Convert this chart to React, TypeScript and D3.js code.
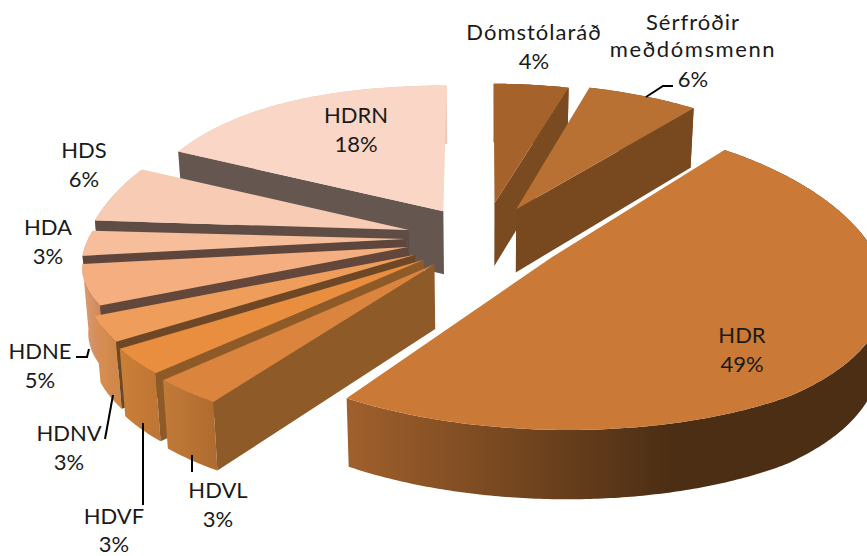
import React from "react";
import * as d3 from "d3";

// ---- data ----
const names = ["Dómstólaráð", "Sérfróðir meðdómsmenn", "HDR", "HDVL", "HDVF", "HDNV", "HDNE", "HDA", "HDS", "HDRN"];
const shares = [4, 6, 49, 3, 3, 3, 5, 3, 6, 18];
const explode = [0.27, 0.243, 0.25, 0.243, 0.243, 0.243, 0.243, 0.243, 0.243, 0.243];

// ---- style ----
const faceColors = ["#A5622B", "#B87033", "#CA7A36", "#DA843E", "#E98E3F", "#EF9D5A", "#F4AE80", "#F6BE9A", "#F7CBB4", "#F9D6C6"];
const wallColors = ["#7A4A20", "#78481F", "#5A3618", "#8E5A28", "#8E5A28", "#6E4826", "#62473A", "#5E463C", "#5F4D45", "#655650"];
const rimFrom = ["#7A4A20", "#78481F", "#A0602C", "#C27A38", "#CB8038", "#D88F55", "#DB9C72", "#C9A186", "#C9A186", "#EBC8B8"];
const rimTo = ["#7A4A20", "#78481F", "#4C2E14", "#B06C30", "#C07634", "#CF8848", "#CF8A5C", "#C9A186", "#C9A186", "#EBC8B8"];
// per-slice corrections of the disc shape
const radiusBase = [1, 1, 0.985, 1, 0.99, 0.98, 0.985, 0.985, 1, 1];
const radiusBulge = [0, 0, 0.075, 0, 0, 0, -0.18, 0, 0, 0];
const stretchX = [1.05, 1.06, 1, 1, 1, 1, 1, 1, 1, 1];
const stretchYBase = [0.95, 1, 1, 1, 1, 1, 1, 1, 1.15, 1.15];
const stretchYBulge = [0, 0, 0, 0, 0, 0, 0, 0, -0.15, -0.15];
const drawOrder = [0, 1, 9, 8, 7, 6, 5, 4, 3, 2];

const W = 867, H = 556;
const cx = 484, cy = 238, shrink = 0.985;

type Pt = [number, number];
// foreshortening of the tilted disc: nearer (Y<0) is drawn larger
const widthAt = (Y: number) => 322 - 51.5 * Y + 18.5 * Y * Y;
const heightAt = (Y: number) => 133.2 - 15.5 * Y + 8.3 * Y * Y;
const depthAt = (Y: number) => 64 - 4.5 * Y;
const project = (X: number, Y: number): Pt => [cx + X * widthAt(Y), cy - Y * heightAt(Y)];
const drop = (X: number, Y: number): Pt => {
  const [x, y] = project(X, Y);
  return [cx + (x - cx) * shrink, y + depthAt(Y)];
};

const arcs = d3.pie<number>().sort(null).value((d) => d)(shares);
const path = d3.line<Pt>().curve(d3.curveLinear);

const labels: { lines: string[]; x: number; y: number[]; spacing?: number[] }[] = [
  { lines: ["Dómstólaráð", "4%"], x: 534, y: [40, 69], spacing: [1, 0] },
  { lines: ["Sérfróðir", "meðdómsmenn", "6%"], x: 693, y: [30, 57, 87], spacing: [1, 1.6, 0] },
  { lines: ["HDR", "49%"], x: 742, y: [343, 372] },
  { lines: ["HDVL", "3%"], x: 218, y: [498, 527] },
  { lines: ["HDVF", "3%"], x: 114, y: [524, 552] },
  { lines: ["HDNV", "3%"], x: 69, y: [441, 470] },
  { lines: ["HDNE", "5%"], x: 40, y: [359, 388] },
  { lines: ["HDA", "3%"], x: 48, y: [235, 264] },
  { lines: ["HDS", "6%"], x: 84, y: [158, 187] },
  { lines: ["HDRN", "18%"], x: 356, y: [123, 152] },
];
const leaders: Pt[][] = [
  [[646, 97], [663, 86], [673, 86]],
  [[76, 357], [87, 357], [89, 349]],
  [[113, 395], [105, 439]],
  [[143, 423], [143, 505]],
  [[192, 455], [192, 472]],
];

function slice(i: number) {
  const a = arcs[i];
  const mid = (a.startAngle + a.endAngle) / 2;
  const ex = explode[i] * Math.sin(mid);
  const ey = explode[i] * Math.cos(mid);
  const rim = (t: number): [number, number] => {
    const c2 = Math.cos(t) * Math.cos(t);
    const R = radiusBase[i] + radiusBulge[i] * Math.min(c2, 0.7);
    const ky = stretchYBase[i] + stretchYBulge[i] * c2;
    return [ex + R * stretchX[i] * Math.sin(t), ey + R * ky * Math.cos(t)];
  };
  const n = Math.max(2, Math.ceil((a.endAngle - a.startAngle) / 0.01));
  const ts = d3.range(n + 1).map((k) => a.startAngle + ((a.endAngle - a.startAngle) * k) / n);
  const topRim = ts.map((t) => project(...rim(t)));
  const lowRim = ts.map((t) => drop(...rim(t)));
  const apexTop = project(ex, ey);
  const apexLow = drop(ex, ey);
  const close = (p: Pt[]) => (path(p) || "") + "Z";
  return {
    face: close([apexTop, ...topRim]),
    rimBand: close([...topRim, ...lowRim.slice().reverse()]),
    // a radial wall is drawn only when it faces the viewer
    wallStart: Math.sin(a.startAngle) < -1e-6 ? close([apexTop, topRim[0], lowRim[0], apexLow]) : null,
    wallEnd: Math.sin(a.endAngle) > 1e-6 ? close([apexTop, topRim[n], lowRim[n], apexLow]) : null,
    xs: d3.extent(topRim, (p) => p[0]) as [number, number],
  };
}

export default function App() {
  const slices = shares.map((_, i) => slice(i));
  const textFont = { fontFamily: "Lato, Carlito, sans-serif", fontSize: 22, fill: "#1a1a1a" };
  return (
    <svg width={W} height={H} viewBox={`0 0 ${W} ${H}`} style={{ position: "absolute", left: 0, top: 0, background: "#fff" }}>
      <defs>
        {slices.map((s, i) => (
          <linearGradient
            key={i}
            id={`rim${i}`}
            gradientUnits="userSpaceOnUse"
            x1={s.xs[0]}
            x2={i === 2 ? s.xs[0] + (s.xs[1] - s.xs[0]) * 0.6 : s.xs[1]}
            y1={0}
            y2={0}
          >
            <stop offset="0" stopColor={rimFrom[i]} />
            <stop offset="1" stopColor={rimTo[i]} />
          </linearGradient>
        ))}
      </defs>
      {drawOrder.map((i) => (
        <g key={names[i]}>
          <path d={slices[i].rimBand} fill={`url(#rim${i})`} />
          {slices[i].wallEnd && <path d={slices[i].wallEnd!} fill={wallColors[i]} />}
          {slices[i].wallStart && <path d={slices[i].wallStart!} fill={wallColors[i]} />}
          <path d={slices[i].face} fill={faceColors[i]} />
        </g>
      ))}
      {leaders.map((l, i) => (
        <path key={i} d={path(l) || ""} fill="none" stroke="#000" strokeWidth={2} />
      ))}
      {labels.map((l) =>
        l.lines.map((t, j) => (
          <text key={l.lines[0] + j} x={l.x} y={l.y[j]} textAnchor="middle" letterSpacing={l.spacing ? l.spacing[j] : 0} {...textFont}>
            {t}
          </text>
        ))
      )}
    </svg>
  );
}
